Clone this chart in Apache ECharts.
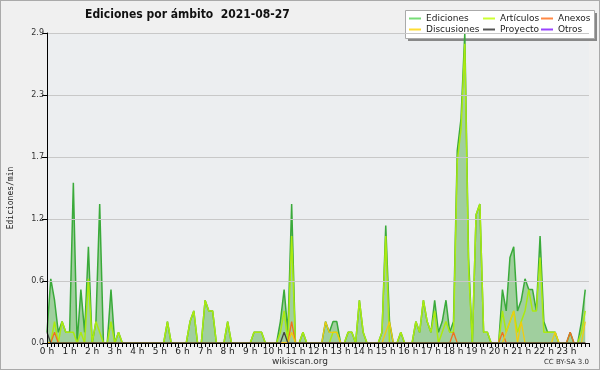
<!DOCTYPE html>
<html><head><meta charset="utf-8">
<script src="https://cdn.jsdelivr.net/npm/echarts@6/dist/echarts.min.js"></script>
<style>html,body{margin:0;padding:0;background:#f0f0f0}#c{width:600px;height:370px;box-sizing:border-box;border:1px solid #aaa}</style>
</head><body><div id="c"></div>
<script>
// 10-minute bins (144 per day), edits per minute
const hourLabels = ['0 h','1 h','2 h','3 h','4 h','5 h','6 h','7 h','8 h','9 h','10 h','11 h','12 h','13 h','14 h','15 h','16 h','17 h','18 h','19 h','20 h','21 h','22 h','23 h'];
const yTicks = [0, 0.58, 1.16, 1.74, 2.32, 2.9];
const ediciones = [
0.1,0.6,0.4,0.1,0.2,0.1,0.1,1.5,0,0.5,0.1,0.9,0,0.2,1.3,0,0,0.5,0,0.1,0,0,0,0,
0,0,0,0,0,0,0,0,0.2,0,0,0,0,0,0.2,0.3,0,0,0.4,0.3,0.3,0,0,0,
0.2,0,0,0,0,0,0,0.1,0.1,0.1,0,0,0,0,0.2,0.5,0.1,1.3,0,0,0.1,0,0,0,
0,0,0.2,0.1,0.2,0.2,0,0,0.1,0.1,0,0.4,0.1,0,0,0,0,0.1,1.1,0.2,0,0,0.1,0,
0,0,0.2,0.1,0.4,0.2,0.1,0.4,0.1,0.2,0.4,0.1,0.2,1.8,2.1,2.9,0.8,0,1.2,1.3,0.1,0.1,0,0,
0,0.5,0.3,0.8,0.9,0.3,0.4,0.6,0.5,0.5,0.3,1.0,0.2,0.1,0.1,0.1,0,0,0,0.1,0,0,0.2,0.5
];
const articulos = [
0,0,0.2,0,0.2,0.1,0.1,0.1,0,0.1,0,0.6,0,0.2,0.1,0,0,0.2,0,0.1,0,0,0,0,
0,0,0,0,0,0,0,0,0.2,0,0,0,0,0,0.2,0.3,0,0,0.4,0.3,0.3,0,0,0,
0.2,0,0,0,0,0,0,0.1,0.1,0.1,0,0,0,0,0.1,0.3,0,1.0,0,0,0.1,0,0,0,
0,0,0,0,0.1,0.1,0,0,0.1,0.1,0,0.4,0.1,0,0,0,0,0.1,1.0,0,0,0,0.1,0,
0,0,0.2,0.1,0.4,0.2,0.1,0.3,0,0.1,0.2,0.1,0.1,1.7,2.0,2.8,0.7,0,1.2,1.3,0.1,0.1,0,0,
0,0.3,0.1,0.2,0.3,0.1,0.2,0.3,0.5,0.3,0.3,0.8,0.1,0.1,0.1,0.1,0,0,0,0,0,0,0.1,0.3
];
const anexosIdx = [2, 65, 108, 121, 139];
const anexosVal = [0.1, 0.2, 0.1, 0.1, 0.1];
const discusionesIdx = [65, 74, 75, 76, 77, 90, 91, 122, 123, 124, 126, 135, 143];
const discusionesVal = [0.1, 0.2, 0.1, 0.1, 0.1, 0.1, 0.2, 0.1, 0.2, 0.3, 0.2, 0.1, 0.2];
const proyectoIdx = [0, 63];
const proyectoVal = [0.1, 0.1];
const otrosIdx = [];
const otrosVal = [];

function full(idx, val){ const a = new Array(144).fill(0); idx.forEach((k,j)=>a[k]=val[j]); return a; }
function pts(arr){ return arr.map((v,i)=>[i,v]); }

const chart = echarts.init(document.getElementById('c'), null, {renderer:'canvas'});
const lineBase = {type:'line', showSymbol:false, symbol:'none', animation:false};
const legendText = {fontFamily:'DejaVu Sans', fontSize:9, color:'#222'};
const legendCommon = {orient:'vertical', top:13, itemWidth:12, itemHeight:2, itemGap:2, icon:'rect', textStyle:legendText, padding:0, selectedMode:false, z:10};
chart.setOption({
  backgroundColor:'#f0f0f0',
  animation:false,
  title:{text:'Ediciones por ámbito  2021-08-27', left:79, top:3, textStyle:{fontFamily:'DejaVu Sans Condensed', fontWeight:'bold', fontSize:12, color:'#111'}},
  graphic:[
    {type:'rect', shape:{x:407,y:12,width:189,height:28}, style:{fill:'#888'}, z:1},
    {type:'rect', shape:{x:404.5,y:9.5,width:189,height:28}, style:{fill:'#ffffff', stroke:'#aaaaaa', lineWidth:1}, z:2},
    {type:'text', x:10, y:197, rotation:Math.PI/2, style:{text:'Ediciones/min', font:'8px DejaVu Sans Mono', fill:'#222', align:'center', verticalAlign:'middle'}},
    {type:'text', left:'center', top:356, style:{text:'wikiscan.org', font:'9px DejaVu Sans', fill:'#333'}},
    {type:'text', right:10, top:358, style:{text:'CC BY-SA 3.0', font:'7px DejaVu Sans', fill:'#333'}}
  ],
  legend:[
    Object.assign({}, legendCommon, {left:408, data:[{name:'Ediciones', itemStyle:{color:'#77dd77'}}, {name:'Discusiones', itemStyle:{color:'#ffdd33'}}]}),
    Object.assign({}, legendCommon, {left:482, data:[{name:'Artículos', itemStyle:{color:'#ccff33'}}, {name:'Proyecto', itemStyle:{color:'#555555'}}]}),
    Object.assign({}, legendCommon, {left:540, data:[{name:'Anexos', itemStyle:{color:'#ff8844'}}, {name:'Otros', itemStyle:{color:'#9944ff'}}]})
  ],
  grid:{left:46, right:10, top:32, bottom:26, show:true, backgroundColor:'#eceef0', borderWidth:0, containLabel:false, outerBoundsMode:'none'},
  xAxis:{type:'value', min:0, max:144, interval:6, z:10,
    axisLine:{lineStyle:{color:'#000', width:1}},
    axisTick:{show:true, length:4, lineStyle:{color:'#000'}},
    minorTick:{show:true, splitNumber:6, length:4, lineStyle:{color:'#000'}},
    splitLine:{show:false},
    axisLabel:{fontFamily:'DejaVu Sans', fontSize:9, color:'#222', margin:4,
      formatter:v=>{const h=Math.round(v/6); return h<hourLabels.length?hourLabels[h]:'';}}},
  yAxis:{type:'value', min:0, max:yTicks[yTicks.length-1], interval:yTicks[1], z:10,
    axisLine:{show:true, lineStyle:{color:'#000'}},
    axisTick:{show:true, length:5, lineStyle:{color:'#000'}},
    splitLine:{show:true, lineStyle:{color:'#c8c8c8', width:1}},
    axisLabel:{fontFamily:'DejaVu Sans', fontSize:8, color:'#333', margin:3, formatter:v=>v.toFixed(1)}},
  series:[
    Object.assign({}, lineBase, {name:'Ediciones', data:pts(ediciones), z:2, lineStyle:{color:'#3aaa3a', width:1.5}, itemStyle:{color:'#3aaa3a'}, areaStyle:{color:'#a0cf9e', opacity:1}}),
    Object.assign({}, lineBase, {name:'Artículos', data:pts(articulos), z:3, lineStyle:{color:'#aaea10', width:1.5}, itemStyle:{color:'#aaea10'}}),
    Object.assign({}, lineBase, {name:'Anexos', data:pts(full(anexosIdx, anexosVal)), z:4, lineStyle:{color:'#f07020', width:1.3}, itemStyle:{color:'#f07020'}}),
    Object.assign({}, lineBase, {name:'Discusiones', data:pts(full(discusionesIdx, discusionesVal)), z:4, lineStyle:{color:'#f0cc10', width:1.3}, itemStyle:{color:'#f0cc10'}}),
    Object.assign({}, lineBase, {name:'Proyecto', data:pts(full(proyectoIdx, proyectoVal)), z:5, lineStyle:{color:'#444444', width:1.3}, itemStyle:{color:'#444444'}}),
    Object.assign({}, lineBase, {name:'Otros', data:pts(full(otrosIdx, otrosVal)), z:1, lineStyle:{color:'#9944ff', width:1.3}, itemStyle:{color:'#9944ff'}})
  ]
});
</script></body></html>
